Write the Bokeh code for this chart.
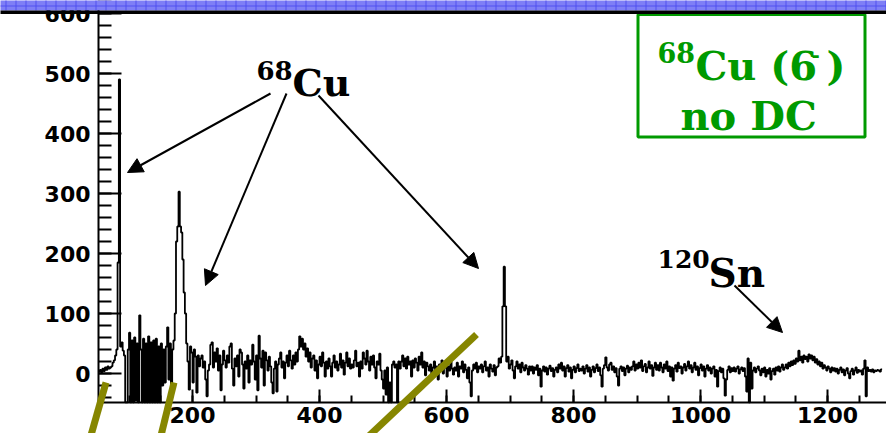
import numpy as np
from bokeh.plotting import figure
from bokeh.models import (Range1d, SingleIntervalTicker, Label, Arrow, NormalHead,
                          BoxAnnotation, ColumnDataSource)
from bokeh.embed import file_html
from bokeh.resources import INLINE

# ---------------- data ----------------
BIN_START = 52
BIN_WIDTH = 2
counts = [
    3, 6, 2, 8, 4, 10, 6, 12, 8, 10, 12, 18, 22, 30, 40, 185, 490, 45, 52, 38,
    30, -48, -48, 40, 68, -48, 55, -48, 60, -45, 50, -48, 97, 40, -48, 58, -48, 50, -48, 62,
    -48, 52, -48, 55, -48, 58, -48, 45, -48, 50, -20, 40, -15, 45, 77, -10, 50, -22, 40, 55,
    100, 220, 245, 303, 245, 235, 190, 135, 100, 50, 20, -27, 45, 35, -15, 40, 28, -32, 30, 12,
    25, 30, 10, 20, -10, -38, 5, 15, 48, 52, 10, 35, 20, 42, 5, 30, -28, 15, 38, 22,
    10, 30, 18, 45, 50, 8, -20, 25, 12, 30, -5, 40, 35, 15, -25, 20, 8, 30, -15, 22,
    15, 48, 20, -10, 30, -28, 63, 25, 10, 38, -20, 35, 22, 5, 28, 12, -15, -33, 8, 20,
    -30, 15, 25, 35, 10, 20, -8, 18, 30, 12, 38, 22, 8, 30, 15, 35, 20, 40, 62, 45,
    58, 40, 50, 28, 42, 20, 35, 10, 25, 30, 5, 22, -8, 15, 28, 12, 35, 18, -5, 20,
    8, 25, 12, -5, 18, 30, 10, 20, 5, 15, 33, 10, 22, -2, 18, 35, 12, 25, 8, 15,
    10, 22, 38, 12, 18, -5, 20, 8, 35, 25, 15, 38, 20, 5, 28, 15, 30, 10, -8, 20,
    15, 33, 5, -10, -25, 5, -35, 10, -48, -15, -48, 15, 20, 10, 15, -48, 20, 8, 20, 30,
    12, 25, 8, 28, 15, 20, -5, 22, 10, 25, 18, 5, 28, 15, 35, 10, 20, -3, 18, 12,
    5, 15, -8, 10, 20, 2, 12, -10, 15, 8, 22, 0, 10, 18, -5, 12, 5, 20, 8, -2,
    10, 5, 18, -5, 12, 8, 20, 2, 15, 6, -8, 10, -15, -38, 5, 15, 8, 18, 2, 12,
    8, 15, 2, 12, 20, 5, 10, -5, 15, 8, 3, 14, -3, 10, 12, 25, 18, 28, 112, 178,
    112, 20, 28, 8, 15, 22, 5, -8, 12, 20, 8, 15, 2, 18, 10, 5, 14, 8, -2, 12,
    5, 12, 0, 10, 6, 14, -3, 8, -22, 5, 12, 3, 10, -2, 8, 13, 4, 9, -5, 6,
    10, 2, 15, 8, 18, 5, 12, -5, 9, 14, 3, 10, -8, 6, 12, 2, 9, 15, 4, 8,
    5, 12, 0, 8, 14, 3, 10, -5, 6, 12, 2, 9, 15, 4, 10, -3, -22, 8, 14, 27,
    10, 5, 15, 18, 6, 12, 2, 9, -5, -20, 8, 12, 4, 10, -3, 8, 13, 2, 10, 6,
    12, 20, 5, 15, 8, 18, 10, 22, 4, 12, 16, 2, 10, 20, 8, 14, -4, 10, 18, 6,
    14, 5, 18, 10, 2, 15, 8, 20, 4, 12, -5, 10, -12, 8, 14, 3, 18, 9, 12, 0,
    10, 16, 5, 12, 20, 8, 14, 2, 10, 18, 6, 12, -3, 9, 15, 5, 12, -5, 8, 14,
    5, 10, 0, 8, 12, -5, 6, -22, 4, 10, 2, 8, -8, -37, -10, 6, 12, 2, 9, 4,
    10, 3, 8, 12, 0, 7, 10, 4, 9, -5, -30, 25, -48, 18, -25, 5, 10, 2, 8, 12,
    5, -3, 8, 2, 10, -5, 6, 0, 9, -10, 4, 8, -2, 10, 5, 12, 3, 10, 15, 6,
    10, 15, 8, 18, 12, 20, 14, 22, 16, 25, 20, 38, 22, 28, 18, 30, 24, 28, 20, 32,
    25, 30, 22, 28, 18, 24, 15, 20, 12, 18, 8, 14, 10, 5, 12, 8, 2, 10, 5, 9,
    3, 8, 0, 6, 10, 2, 7, -3, 5, 9, 0, -8, 4, 8, -2, 5, 10, 1, 6, 3,
    5, -2, 8, 22, -38, 10, 4, 6, 3, 7, 2, 5, 4, 6, 5, 3, 7,
]

X_MAJOR = 200      # x tick interval
Y_MAJOR = 100      # y tick interval
X_MIN, Y_MIN = 52, -48.3   # where the axes cross

# ---------------- histogram path ----------------
edges = BIN_START + BIN_WIDTH * np.arange(len(counts) + 1)
xs = np.repeat(edges, 2)[1:-1]
ys = np.repeat(np.array(counts, dtype=float), 2)
src = ColumnDataSource(data=dict(x=xs, y=ys))


# canvas pixel -> data helpers (for annotations only)
def dx(px):
    return (px - 65.0) / 0.635


def dy(py):
    return (373.0 - py) / 0.6


W, H = 886, 433
p = figure(width=W, height=H, output_backend="svg", toolbar_location=None,
           x_range=Range1d(dx(0), dx(W)), y_range=Range1d(dy(H), dy(0)),
           min_border_left=0, min_border_right=0, min_border_top=0,
           min_border_bottom=0)
p.background_fill_color = "white"
p.border_fill_color = "white"
p.outline_line_color = None
p.grid.visible = False

p.line("x", "y", source=src, line_color="black", line_width=1.8)

# axes (fixed where the ROOT frame sits)
xa = p.xaxis[0]
ya = p.yaxis[0]
xa.fixed_location = Y_MIN
ya.fixed_location = X_MIN
xa.bounds = (X_MIN, dx(W))
ya.bounds = (Y_MIN, dy(0))
xa.ticker = SingleIntervalTicker(interval=X_MAJOR, num_minor_ticks=4)
ya.ticker = SingleIntervalTicker(interval=Y_MAJOR, num_minor_ticks=5)
for ax in (xa, ya):
    ax.axis_line_color = "black"
    ax.axis_line_width = 2
    ax.major_tick_line_color = "black"
    ax.minor_tick_line_color = "black"
    ax.major_tick_line_width = 2
    ax.minor_tick_line_width = 2
    ax.major_tick_out = 0
    ax.minor_tick_out = 0
    ax.major_label_text_font = "DejaVu Sans"
    ax.major_label_text_font_style = "bold"
    ax.major_label_text_font_size = "22px"
    ax.major_label_text_color = "black"
xa.major_tick_in = 13
xa.minor_tick_in = 7
ya.major_tick_in = 23
ya.minor_tick_in = 13
xa.major_label_standoff = 5
ya.major_label_standoff = 8

GREEN = "#009a00"

# green box
p.add_layout(BoxAnnotation(left=dx(637.5), right=dx(864.5), top=dy(14), bottom=dy(136.5),
                           fill_color="white", fill_alpha=1.0, line_color=GREEN,
                           line_alpha=1.0, line_width=3, level="annotation"))

# top blue strip and black band
p.add_layout(BoxAnnotation(left=dx(-20), right=dx(W + 20), top=dy(-20), bottom=dy(10),
                           fill_color="#7f7ff6", fill_alpha=1.0, line_color=None,
                           hatch_pattern="+", hatch_color="#4646ee", hatch_scale=10,
                           hatch_weight=1, hatch_alpha=0.8, level="overlay"))
p.add_layout(BoxAnnotation(left=dx(-20), right=dx(W + 20), top=dy(10), bottom=dy(13.5),
                           fill_color="black", fill_alpha=1.0, line_color=None,
                           level="overlay"))


def lab(text, px, py, size, color="black", font="DejaVu Serif"):
    p.add_layout(Label(x=dx(px), y=dy(py), text=text, text_font=font,
                       text_font_style="bold", text_font_size=f"{size}px",
                       text_color=color, text_baseline="alphabetic",
                       text_align="left"))


lab("68", 256, 70, 26)
lab("Cu", 292, 82, 38)
lab("68", 657, 52, 27, GREEN)
lab("Cu (6", 695, 65, 40, GREEN)
lab("-", 811, 54, 20, GREEN)
lab(")", 826, 65, 40, GREEN)
lab("no DC", 680, 115, 40, GREEN)
lab("120", 657, 258, 25)
lab("Sn", 708, 272, 39)


def arrow(x0, y0, x1, y1):
    p.add_layout(Arrow(end=NormalHead(size=15, fill_color="black", line_color="black",
                                      line_width=1),
                       x_start=dx(x0), y_start=dy(y0), x_end=dx(x1), y_end=dy(y1),
                       line_color="black", line_width=2))


arrow(270, 93, 127, 172)
arrow(286, 93, 205, 285)
arrow(318, 95, 478, 268)
arrow(734, 285, 782, 332)

OLIVE = "#868600"
for (x0, y0, x1, y1) in [(105.5, 382, 89, 440), (173.5, 382, 159.3, 440),
                         (476, 334, 363.6, 440)]:
    p.add_layout(Arrow(end=None, start=None, x_start=dx(x0), y_start=dy(y0),
                       x_end=dx(x1), y_end=dy(y1), line_color=OLIVE, line_width=7))

open("out.html", "w").write(file_html(p, INLINE))
